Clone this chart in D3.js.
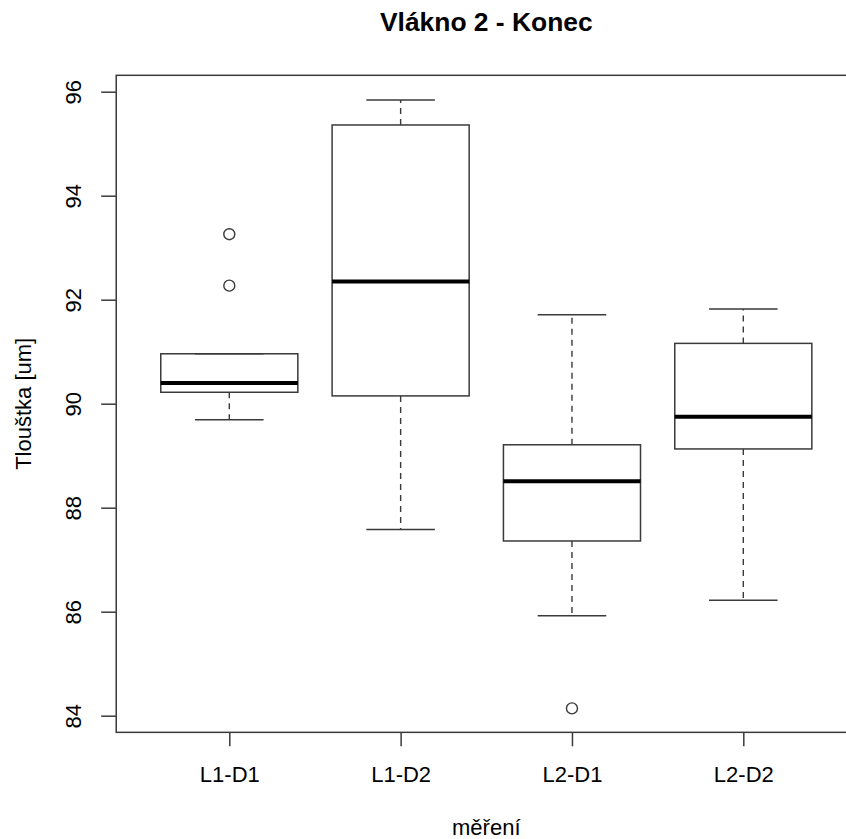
<!DOCTYPE html>
<html>
<head>
<meta charset="utf-8">
<script src="https://cdn.jsdelivr.net/npm/d3@7"></script>
<style>
  body { margin: 0; background: #fff; }
  svg text { font-family: "Liberation Sans", Arial, Helvetica, sans-serif; fill: #000; }
</style>
</head>
<body>
<svg id="chart" width="846" height="839"></svg>
<script>
// values
const categories = ["L1-D1", "L1-D2", "L2-D1", "L2-D2"];
const lowerWhisker = [89.69, 87.58, 85.92, 86.22];
const q1 = [90.22, 90.15, 87.36, 89.13];
const median = [90.40, 92.35, 88.51, 89.75];
const q3 = [90.96, 95.36, 89.21, 91.16];
const upperWhisker = [90.96, 95.84, 91.71, 91.82];
const outliers = [[93.26, 92.27], [], [84.14], []];
const yTicks = [84, 86, 88, 90, 92, 94, 96];

const width = 846, height = 839;
const svg = d3.select("#chart").attr("width", width).attr("height", height);

// like R: groups at 1..n, region padded 4% beyond 0.5..n+0.5
const x = d3.scaleLinear().domain([1, 4]).range([229.3, 743.3]);
const y = d3.scaleLinear().domain([84, 96]).range([715.7, 91.7]);

const xMin = x(0.34), xMax = x(4.66);
const yTop = y(96.315), yBottom = y(83.68);

const lineColor = "#3a3a3a";
const boxHalf = (x(2) - x(1)) * 0.4;
const capHalf = boxHalf / 2;

const groups = categories.map((c, i) => ({
  name: c, i: i + 1,
  lo: lowerWhisker[i], q1: q1[i], med: median[i], q3: q3[i], hi: upperWhisker[i],
  out: outliers[i]
}));

const g = svg.selectAll("g.box").data(groups).enter().append("g").attr("class", "box");

// whiskers (dashed)
g.append("line")
  .attr("x1", d => x(d.i)).attr("x2", d => x(d.i))
  .attr("y1", d => y(d.q3)).attr("y2", d => y(d.hi))
  .attr("stroke", lineColor).attr("stroke-width", 1.4).attr("stroke-dasharray", "6,5");
g.append("line")
  .attr("x1", d => x(d.i)).attr("x2", d => x(d.i))
  .attr("y1", d => y(d.q1)).attr("y2", d => y(d.lo))
  .attr("stroke", lineColor).attr("stroke-width", 1.4).attr("stroke-dasharray", "6,5");

// staples
[d => d.hi, d => d.lo].forEach(f => {
  g.append("line")
    .attr("x1", d => x(d.i) - capHalf).attr("x2", d => x(d.i) + capHalf)
    .attr("y1", d => y(f(d))).attr("y2", d => y(f(d)))
    .attr("stroke", lineColor).attr("stroke-width", 1.5);
});

// boxes
g.append("rect")
  .attr("x", d => x(d.i) - boxHalf)
  .attr("width", boxHalf * 2)
  .attr("y", d => y(d.q3))
  .attr("height", d => y(d.q1) - y(d.q3))
  .attr("fill", "none").attr("stroke", lineColor).attr("stroke-width", 1.5);

// medians
g.append("line")
  .attr("x1", d => x(d.i) - boxHalf).attr("x2", d => x(d.i) + boxHalf)
  .attr("y1", d => y(d.med)).attr("y2", d => y(d.med))
  .attr("stroke", "#000").attr("stroke-width", 4);

// outliers
g.selectAll("circle").data(d => d.out.map(v => ({ i: d.i, v }))).enter().append("circle")
  .attr("cx", d => x(d.i)).attr("cy", d => y(d.v)).attr("r", 5.5)
  .attr("fill", "none").attr("stroke", lineColor).attr("stroke-width", 1.4);

// plot frame
svg.append("rect")
  .attr("x", xMin).attr("y", yTop)
  .attr("width", xMax - xMin).attr("height", yBottom - yTop)
  .attr("fill", "none").attr("stroke", lineColor).attr("stroke-width", 1.5);

// y axis
const yAxis = svg.append("g")
  .attr("transform", `translate(${xMin},0)`)
  .call(d3.axisLeft(y).tickValues(yTicks).tickSize(15).tickFormat(d3.format("d")));
yAxis.select(".domain").remove();
yAxis.selectAll("line").attr("stroke", lineColor).attr("stroke-width", 1.5);
yAxis.selectAll("text")
  .attr("x", null).attr("dy", null)
  .attr("text-anchor", "middle")
  .attr("transform", "translate(-35,0) rotate(-90)")
  .style("font-size", "22px")
  .style("font-family", "'Liberation Sans', Arial, Helvetica, sans-serif");

// x axis
const xAxis = svg.append("g")
  .attr("transform", `translate(0,${yBottom})`)
  .call(d3.axisBottom(x).tickValues([1, 2, 3, 4]).tickSize(14).tickFormat(d => categories[d - 1]));
xAxis.select(".domain").remove();
xAxis.selectAll("line").attr("stroke", lineColor).attr("stroke-width", 1.5);
xAxis.selectAll("text")
  .attr("y", 49.5).attr("dy", null)
  .style("font-size", "22px")
  .style("font-family", "'Liberation Sans', Arial, Helvetica, sans-serif");

// titles
const cx = (xMin + xMax) / 2;
svg.append("text")
  .attr("x", cx).attr("y", 30.5)
  .attr("text-anchor", "middle")
  .style("font-size", "26.4px").style("font-weight", "bold")
  .text("Vlákno 2 - Konec");

svg.append("text")
  .attr("x", cx).attr("y", 835)
  .attr("text-anchor", "middle")
  .style("font-size", "22px")
  .text("měření");

svg.append("text")
  .attr("transform", `translate(31,${(yTop + yBottom) / 2}) rotate(-90)`)
  .attr("text-anchor", "middle")
  .style("font-size", "22px")
  .text("Tlouštka [um]");
</script>
</body>
</html>
